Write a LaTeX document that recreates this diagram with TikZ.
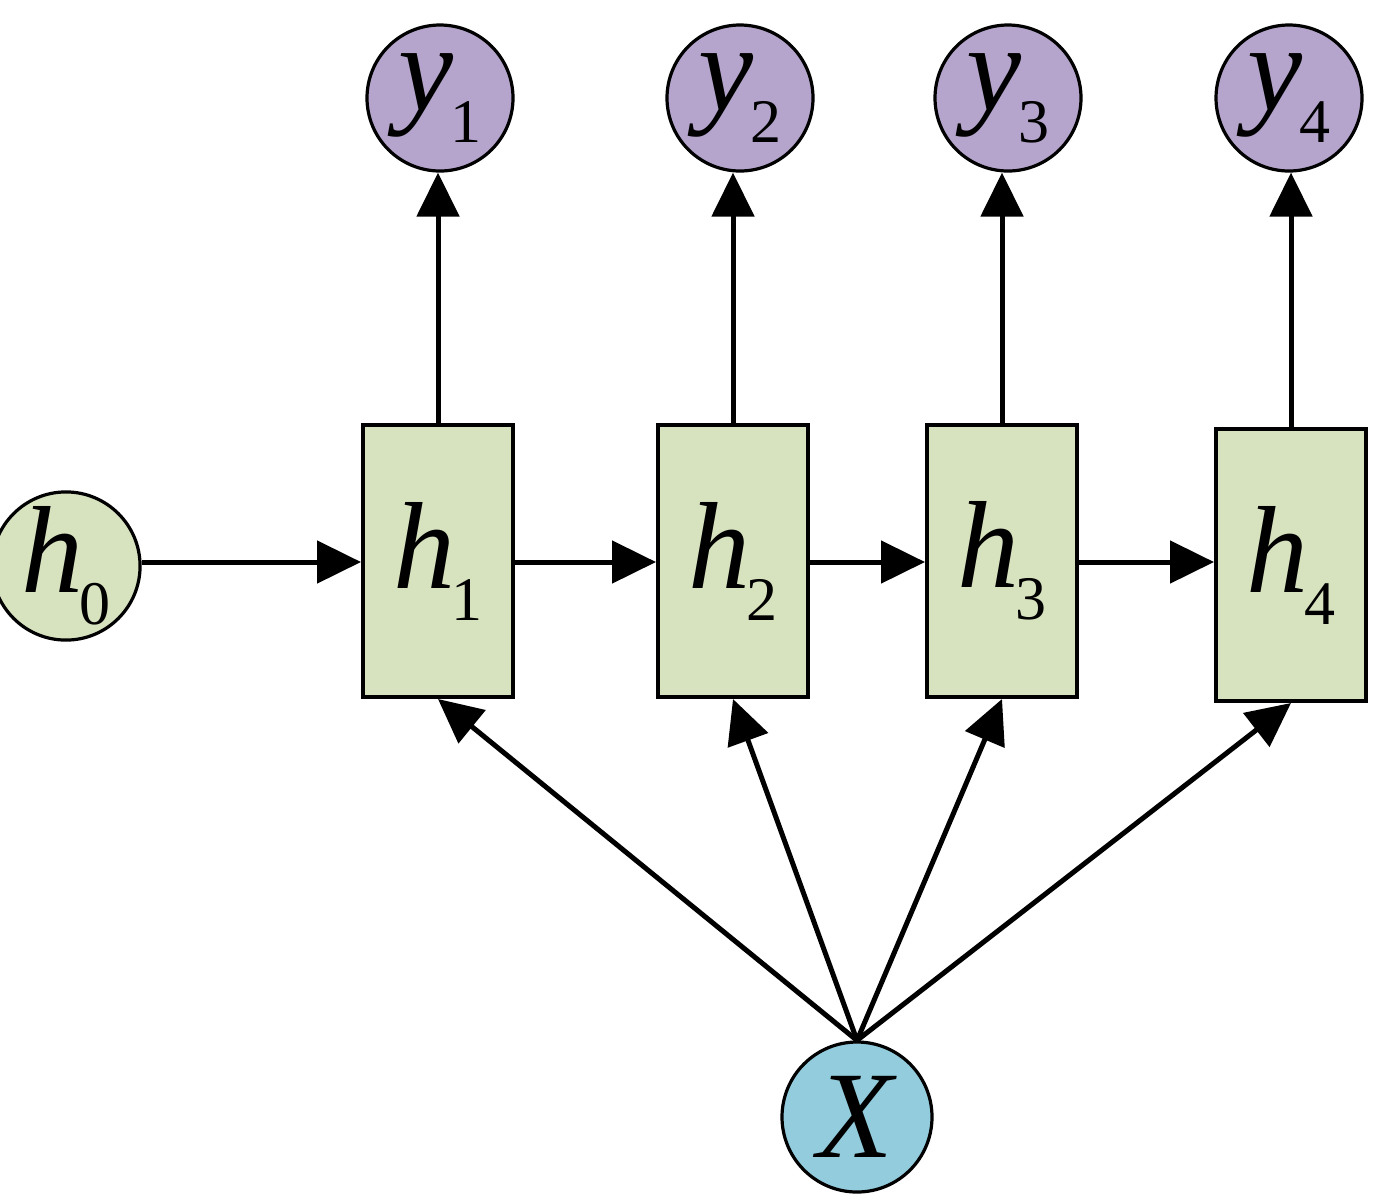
\documentclass[tikz,border=0pt]{standalone}
\usepackage{fontspec}
\setmainfont{Liberation Serif}
\usetikzlibrary{arrows.meta}
\definecolor{boxgreen}{HTML}{D7E2BF}
\definecolor{ypurple}{HTML}{B5A5CC}
\definecolor{xblue}{HTML}{93CDDD}
\newcommand\lbl[2]{\fontsize{62}{62}\selectfont\textit{#1}\kern-2pt\raisebox{-16pt}{\fontsize{31}{31}\selectfont #2}}
\tikzset{
  hbox/.style={draw=black, line width=2pt, fill=boxgreen, minimum width=75pt, minimum height=136pt, inner sep=0pt},
  outc/.style={circle, draw=black, line width=1.6pt, fill=ypurple, minimum size=73pt, inner sep=0pt},
  h0c/.style={circle, draw=black, line width=1.6pt, fill=boxgreen, minimum size=72pt, inner sep=0pt},
  xc/.style={circle, draw=black, line width=1.6pt, fill=xblue, minimum size=75pt, inner sep=0pt},
  conn/.style={line width=2.5pt, -{Triangle[length=22pt,width=21pt]}}
}
\begin{document}
\begin{tikzpicture}[x=0.5pt,y=-0.5pt]
\useasboundingbox (0,0) rectangle (1380,1196);
\node[h0c] (h0) at (66,566) {\lbl{h}{0}};
\node[hbox] (h1) at (438,561) {\lbl{h}{1}};
\node[hbox] (h2) at (733,561) {\lbl{h}{2}};
\node[hbox] (h3) at (1002,561) {\lbl{h}{3}};
\node[hbox] (h4) at (1291,565) {\lbl{h}{4}};
\node[outc] (y1) at (440,98) {\lbl{y}{1}};
\node[outc] (y2) at (740,98) {\lbl{y}{2}};
\node[outc] (y3) at (1008,98) {\lbl{y}{3}};
\node[outc] (y4) at (1289,98) {\lbl{y}{4}};
\node[xc] (X) at (857,1117) {\fontsize{62}{62}\selectfont\textit{X}};
\draw[conn] (h0.east |- 0,562) -- (h1.west |- 0,562);
\draw[conn] (h1.east |- 0,562) -- (h2.west |- 0,562);
\draw[conn] (h2.east |- 0,562) -- (h3.west |- 0,562);
\draw[conn] (h3.east |- 0,562) -- (h4.west |- 0,562);
\foreach \i in {1,2,3,4}{
  \draw[conn] (h\i.north) -- (h\i.north |- y\i.south);
  \draw[conn] (X.north) -- (h\i.south);
}
\end{tikzpicture}
\end{document}
